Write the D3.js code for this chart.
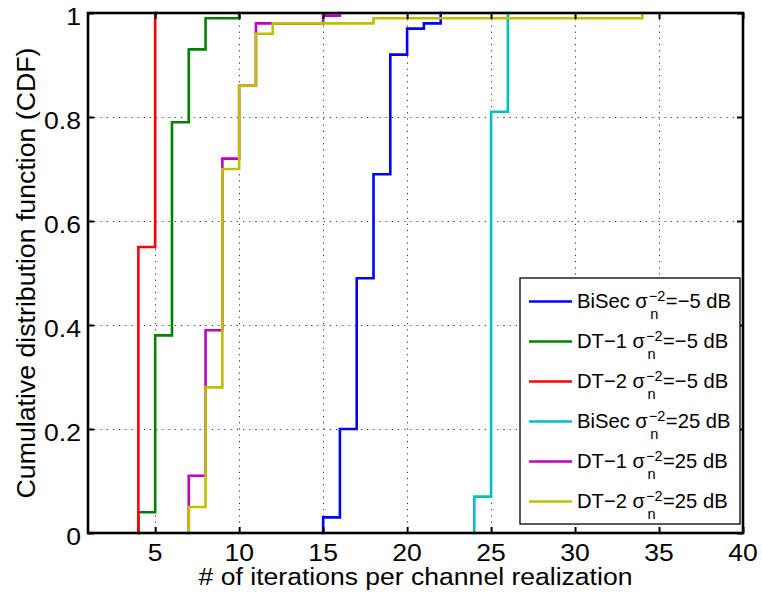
<!DOCTYPE html>
<html>
<head>
<meta charset="utf-8">
<script src="https://cdn.jsdelivr.net/npm/d3@7"></script>
<style>
  html, body { margin: 0; padding: 0; background: #fff; }
  svg { display: block; }
  text { font-family: "Liberation Sans", Arial, Helvetica, sans-serif; fill: #000; }
</style>
</head>
<body>
<svg id="chart" width="762" height="599"></svg>
<script>
// Empirical CDF step points [iterations, CDF] for each scheme / noise level
const bisecLow  = [[15,0],[15,0.03],[16,0.20],[17,0.49],[18,0.69],[19,0.92],[20,0.97],[21,0.98],[22,1]];
const dt1Low    = [[4,0],[4,0.04],[5,0.38],[6,0.79],[7,0.93],[8,0.99],[10,1]];
const dt2Low    = [[4,0],[4,0.55],[5,1]];
const bisecHigh = [[24,0],[24,0.07],[25,0.81],[26,1]];
const dt1High   = [[7,0],[7,0.11],[8,0.39],[9,0.72],[10,0.86],[11,0.98],[15,0.995],[16,1]];
const dt2High   = [[7,0],[7,0.05],[8,0.28],[9,0.70],[10,0.86],[11,0.96],[12,0.98],[18,0.99],[34,1]];

const seriesNames  = ["BiSec", "DT\u22121", "DT\u22122", "BiSec", "DT\u22121", "DT\u22122"];
const seriesSnr    = ["=\u22125 dB", "=\u22125 dB", "=\u22125 dB", "=25 dB", "=25 dB", "=25 dB"];
const seriesColors = ["#0000ff", "#008000", "#ff0000", "#00bfbf", "#bf00bf", "#bfbf00"];
const seriesData   = [bisecLow, dt1Low, dt2Low, bisecHigh, dt1High, dt2High];

const xTicks = [5, 10, 15, 20, 25, 30, 35, 40];
const yTicks = [0, 0.2, 0.4, 0.6, 0.8, 1];
const yTickLabels = ["0", "0.2", "0.4", "0.6", "0.8", "1"];

const xLabel = "# of iterations per channel realization";
const yLabel = "Cumulative distribution function (CDF)";

const svg = d3.select("#chart");
const plotLeft = 88, plotRight = 743, plotTop = 13, plotBottom = 533;

const x = d3.scaleLinear().domain([1, 40]).range([plotLeft, plotRight]);
const y = d3.scaleLinear().domain([0, 1]).range([plotBottom, plotTop]);

// dotted grid
const grid = svg.append("g").attr("stroke", "#333").attr("stroke-width", 1)
  .attr("stroke-dasharray", "1.2,5");
grid.selectAll("line.v").data(xTicks.filter(d => d < 40)).join("line")
  .attr("class", "v")
  .attr("x1", d => Math.round(x(d)) + 0.5).attr("x2", d => Math.round(x(d)) + 0.5)
  .attr("y1", plotTop).attr("y2", plotBottom);
grid.selectAll("line.h").data(yTicks.filter(d => d > 0 && d < 1)).join("line")
  .attr("class", "h")
  .attr("y1", d => Math.round(y(d)) + 0.5).attr("y2", d => Math.round(y(d)) + 0.5)
  .attr("x1", plotLeft).attr("x2", plotRight);

// CDF staircases
const line = d3.line().x(d => x(d[0])).y(d => y(d[1])).curve(d3.curveStepAfter);
svg.append("g").selectAll("path").data(seriesData).join("path")
  .attr("d", d => line(d))
  .attr("fill", "none")
  .attr("stroke", (d, i) => seriesColors[i])
  .attr("stroke-width", 2.6)
  .attr("stroke-linejoin", "miter")
  .attr("stroke-linecap", "square");

// tick marks on all four sides (inward)
const tickLen = 6;
function styleAxis(g) {
  g.select(".domain").remove();
  g.selectAll(".tick line").attr("stroke", "#000").attr("stroke-width", 2);
}
svg.append("g").attr("transform", `translate(0,${plotBottom})`)
  .call(d3.axisBottom(x).tickValues(xTicks).tickSize(-tickLen).tickFormat("")).call(styleAxis);
svg.append("g").attr("transform", `translate(0,${plotTop})`)
  .call(d3.axisTop(x).tickValues(xTicks).tickSize(-tickLen).tickFormat("")).call(styleAxis);
svg.append("g").attr("transform", `translate(${plotLeft},0)`)
  .call(d3.axisLeft(y).tickValues(yTicks).tickSize(-tickLen).tickFormat("")).call(styleAxis);
svg.append("g").attr("transform", `translate(${plotRight},0)`)
  .call(d3.axisRight(y).tickValues(yTicks).tickSize(-tickLen).tickFormat("")).call(styleAxis);

// tick labels (slightly wide lettering)
const axisFont = 23.5, stretch = 1.13;
svg.append("g").selectAll("text").data(xTicks).join("text")
  .attr("transform", d => `translate(${x(d)},561) scale(${stretch},1)`)
  .attr("text-anchor", "middle").attr("font-size", axisFont)
  .text(d => d3.format("d")(d));
svg.append("g").selectAll("text").data(yTicks).join("text")
  .attr("transform", d => `translate(81,${y(d) + 11.5}) scale(${stretch},1)`)
  .attr("text-anchor", "end").attr("font-size", axisFont)
  .text((d, i) => yTickLabels[i]);

// frame
svg.append("rect").attr("x", plotLeft).attr("y", plotTop)
  .attr("width", plotRight - plotLeft).attr("height", plotBottom - plotTop)
  .attr("fill", "none").attr("stroke", "#000").attr("stroke-width", 2.6);

// axis titles
svg.append("text").attr("transform", `translate(${(plotLeft + plotRight) / 2},585) scale(${stretch},1)`)
  .attr("text-anchor", "middle").attr("font-size", axisFont).text(xLabel);
svg.append("text").attr("transform", `translate(35,${(plotTop + plotBottom) / 2}) rotate(-90)`)
  .attr("text-anchor", "middle").attr("font-size", 26.7).text(yLabel);

// legend
const lg = svg.append("g");
lg.append("rect").attr("x", 520).attr("y", 278).attr("width", 220).attr("height", 246)
  .attr("fill", "#fff").attr("stroke", "#000").attr("stroke-width", 1.3);
const legFont = 20.2, scriptFont = 14.5;
seriesNames.forEach((name, i) => {
  const base = 308 + i * 40;
  lg.append("line").attr("x1", 529).attr("x2", 572)
    .attr("y1", base - 6.5).attr("y2", base - 6.5)
    .attr("stroke", seriesColors[i]).attr("stroke-width", 2.6);
  const t1 = lg.append("text").attr("x", 577).attr("y", base).attr("font-size", legFont)
    .text(name + " \u03c3");
  const w1 = t1.node().getComputedTextLength();
  const sx = 577 + w1 + 1;
  const sub = lg.append("text").attr("x", sx + 1.5).attr("y", base + 11).attr("font-size", scriptFont).text("n");
  const sup = lg.append("text").attr("x", sx).attr("y", base - 7.5).attr("font-size", scriptFont).text("\u22122");
  const w2 = Math.max(sub.node().getComputedTextLength() + 1.5, sup.node().getComputedTextLength());
  lg.append("text").attr("x", sx + w2 + 0.5).attr("y", base).attr("font-size", legFont).text(seriesSnr[i]);
});
</script>
</body>
</html>
